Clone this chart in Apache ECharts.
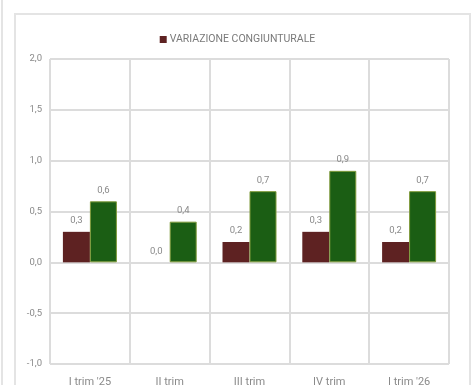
<!DOCTYPE html>
<html>
<head>
<meta charset="utf-8">
<script src="https://cdn.jsdelivr.net/npm/echarts@6/dist/echarts.min.js"></script>
<style>html,body{margin:0;padding:0;background:#fff}#c{width:475px;height:385px}</style>
</head>
<body>
<div id="c"></div>
<script>
const categories = ["I trim '25", "II trim", "III trim", "IV trim", "I trim '26"];
const congiunturale = [0.3, 0.0, 0.2, 0.3, 0.2];
const tendenziale = [0.6, 0.4, 0.7, 0.9, 0.7];
const seriesNames = ["VARIAZIONE CONGIUNTURALE", "VARIAZIONE TENDENZIALE"];
const yTicks = { min: -1.0, max: 2.0, interval: 0.5 };

const fmt = v => Number(v).toFixed(1).replace('.', ',');
const chart = echarts.init(document.getElementById('c'), null, { renderer: 'canvas' });
const labelStyle = { show: true, position: 'top', distance: 6, color: '#8a8a8a', fontSize: 9.5, fontFamily: 'Roboto', formatter: p => fmt(p.value) };
chart.setOption({
  animation: false,
  backgroundColor: '#fff',
  textStyle: { fontFamily: 'Roboto' },
  graphic: [
    { type: 'line', shape: { x1: 2, y1: 0, x2: 2, y2: 385 }, style: { stroke: '#e4e4e4', lineWidth: 2 } },
    { type: 'rect', shape: { x: 15, y: 14, width: 455, height: 400 }, style: { fill: 'none', stroke: '#e4e4e4', lineWidth: 2 } }
  ],
  legend: {
    data: [seriesNames[0]],
    top: 29, left: 'center',
    itemWidth: 7, itemHeight: 7, itemGap: 4,
    icon: 'rect',
    textStyle: { color: '#7a7a7a', fontSize: 10.5, fontFamily: 'Roboto', padding: [0, 0, 0, -2] }
  },
  grid: { left: 50, right: 26, top: 59, bottom: 21, containLabel: false, outerBoundsMode: 'none' },
  xAxis: {
    type: 'category', data: categories,
    axisLine: { show: true, lineStyle: { color: '#dcdcdc', width: 2 } },
    axisTick: { show: false },
    splitLine: { show: true, lineStyle: { color: '#dcdcdc', width: 2 } },
    axisLabel: { color: '#8a8a8a', fontSize: 11, margin: 13, fontFamily: 'Roboto' }
  },
  yAxis: {
    type: 'value', min: yTicks.min, max: yTicks.max, interval: yTicks.interval,
    axisLine: { show: false }, axisTick: { show: false },
    splitLine: { show: true, lineStyle: { color: '#dcdcdc', width: 2 } },
    axisLabel: { color: '#8a8a8a', fontSize: 9.5, margin: 8, formatter: v => fmt(v), fontFamily: 'Roboto' }
  },
  series: [
    { name: seriesNames[0], type: 'bar', data: congiunturale, barWidth: 27, barGap: '0%',
      itemStyle: { color: '#5e2222' }, label: labelStyle, z: 3 },
    { name: seriesNames[1], type: 'bar', data: tendenziale, barWidth: 27, barGap: '0%',
      itemStyle: { color: '#1b5e14', borderColor: '#7f9a3a', borderWidth: 1 }, label: labelStyle, z: 3 }
  ]
});
</script>
</body>
</html>
